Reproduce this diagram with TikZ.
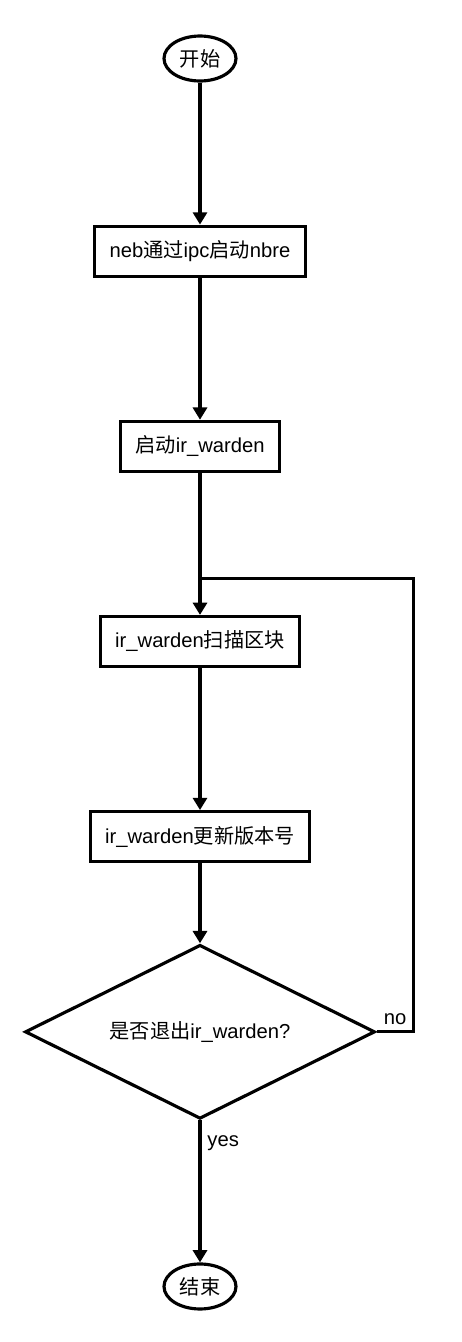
\documentclass[tikz,border=0pt]{standalone}
\usepackage{fontspec}
\setmainfont{Liberation Sans}
\newfontfamily\cjk{Noto Sans CJK SC}
\usepackage{tikz}
\usetikzlibrary{arrows.meta, positioning, shapes.geometric}

\begin{document}
\begin{tikzpicture}[>={Triangle[length=7pt,width=8pt]}, node distance=2.84cm, line width=1.8pt,
    every node/.style={font=\fontsize{11.5pt}{14pt}\selectfont},
    terminal/.style={draw, ellipse, minimum width=1.44cm, minimum height=0.9cm, inner sep=0pt},
    process/.style={draw, rectangle, minimum height=1.0cm, inner xsep=0.3cm},
    decision/.style={draw, diamond, aspect=3, minimum width=7.0cm, minimum height=3.48cm, inner sep=0pt}]
    \useasboundingbox (0,0) rectangle (9.24,-26.84);

    % Nodes
    \node[terminal] (start) at (4,-1.17) {{\cjk 开始}};
    \node[process] (launch) [below=of start] {neb{\cjk 通过}ipc{\cjk 启动}nbre};
    \node[process] (warden) [below=of launch] {{\cjk 启动}ir\_warden};
    \node[process] (scan) [below=of warden] {ir\_warden{\cjk 扫描区块}};
    \node[process] (update) [below=of scan] {ir\_warden{\cjk 更新版本号}};
    \node[decision] (quit) [below=1.6cm of update] {{\cjk 是否退出}ir\_warden?};
    \node[terminal] (stop) [below=of quit] {{\cjk 结束}};
    \coordinate (join) at ([yshift=0.72cm]scan.north);

    % Flow
    \draw[->] (start) -- (launch);
    \draw[->] (launch) -- (warden);
    \draw[->] (warden) -- (scan);
    \draw[->] (scan) -- (update);
    \draw[->] (update) -- (quit);
    \draw[->] (quit) -- node[right, pos=0.16] {yes} (stop);

    % Loop back
    \draw (quit.east) -- node[above, pos=0.5] {no} ++(0.74,0) |- (join);
\end{tikzpicture}
\end{document}
